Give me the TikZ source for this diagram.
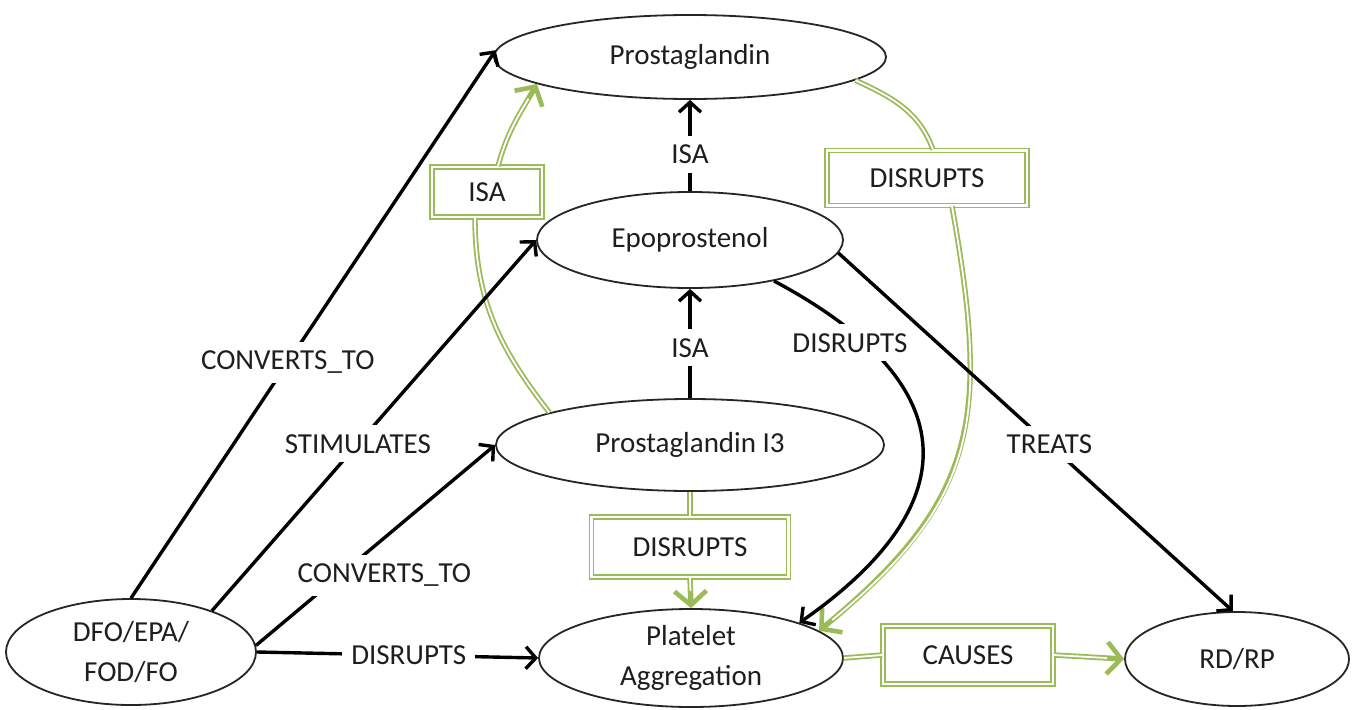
\documentclass[tikz,border=0pt]{standalone}
\usepackage{fontspec}
\setmainfont{Carlito}
\usetikzlibrary{arrows.meta,shapes.geometric}
\definecolor{gr}{RGB}{155,187,89}
\definecolor{tx}{RGB}{30,30,30}
\begin{document}
\begin{tikzpicture}[x=1pt,y=1pt,
  ell/.style={ellipse, draw=black!85, line width=1.8pt, inner sep=0pt, fill=white, text=tx, font=\fontsize{29}{40}\selectfont, align=center},
  lbl/.style={fill=white, text=tx, font=\fontsize{29}{35}\selectfont, inner sep=9pt},
  gbox/.style={rectangle, draw=gr, line width=1.7pt, double=white, double distance=2.4pt, fill=white, text=tx, font=\fontsize{29}{35}\selectfont, inner sep=0pt},
  bl/.style={draw=black, line width=3.4pt},
  bla/.style={bl, -{Straight Barb[length=10pt,width=22pt,line width=3.4pt]}},
  gl/.style={draw=gr, line width=5.4pt, postaction={draw=white, line width=1.8pt}},
  gla/.style={draw=gr, line width=5.4pt, -{Straight Barb[length=14pt,width=32pt,line width=4.6pt]}, postaction={draw=white, line width=1.8pt, -, shorten >=17pt}},
]
\useasboundingbox[fill=white] (0,0) rectangle (1359,-709);

% nodes
\node[ell, minimum width=392pt, minimum height=84pt] (pg) at (690,-57) {Prostaglandin};
\node[ell, minimum width=306pt, minimum height=96pt] (epo) at (690,-240) {Epoprostenol};
\node[ell, minimum width=388pt, minimum height=92pt] (pgi) at (690,-445) {Prostaglandin I3};
\node[ell, minimum width=304pt, minimum height=98pt] (pa) at (691,-658) {Platelet\\Aggregation};
\node[ell, minimum width=250pt, minimum height=106pt] (dfo) at (131,-652) {DFO/EPA/\\FOD/FO};
\node[ell, minimum width=224pt, minimum height=94pt] (rd) at (1237,-659) {RD/RP};

% green label boxes
\node[gbox, minimum width=110pt, minimum height=50pt] (b1) at (487,-192) {ISA};
\node[gbox, minimum width=200pt, minimum height=55pt] (b2) at (927,-178) {DISRUPTS};
\node[gbox, minimum width=197pt, minimum height=60pt] (b3) at (690,-547) {DISRUPTS};
\node[gbox, minimum width=170pt, minimum height=58pt] (b4) at (968,-655) {CAUSES};

% green connectors
\draw[gl] (pgi.167) to[out=128,in=-90] ([xshift=-12pt]b1.south);
\draw[gla] ([xshift=11pt]b1.north) to[out=75,in=-120] (pg.190);
\draw[gl] (pg.-8) to[out=-25,in=110] ([xshift=6pt]b2.north);
\draw[gla] ([xshift=25pt]b2.south) .. controls (990,-420) and (978,-500) .. (pa.12);
\draw[gl] (pgi.south) -- (b3.north);
\draw[gla] (b3.south) -- (pa.north);
\draw[gl] (pa.east) -- (b4.west);
\draw[gla] (b4.east) -- (rd.west);

% black connectors
\draw[bla] (dfo.north) -- node[lbl,pos=0.43]{CONVERTS\_TO} (pg.178);
\draw[bla] (dfo.27) -- node[lbl,pos=0.45]{STIMULATES} (epo.west);
\draw[bla] (dfo.3) -- node[lbl,pos=0.37,xshift=40pt,yshift=-4pt]{CONVERTS\_TO} (pgi.west);
\draw[bla] (dfo.east) -- node[lbl,pos=0.54]{DISRUPTS} (pa.west);
\draw[bla] (epo.north) -- node[lbl,pos=0.4]{ISA} (pg.south);
\draw[bla] (pgi.north) -- node[lbl,pos=0.46]{ISA} (epo.south);
\draw[bla] (epo.-26) .. controls (960,-380) and (975,-500) .. node[lbl,pos=0.2,xshift=-15pt]{DISRUPTS} (pa.18);
\draw[bla] (epo.-5) -- node[lbl,pos=0.535]{TREATS} (rd.95);
\end{tikzpicture}
\end{document}
